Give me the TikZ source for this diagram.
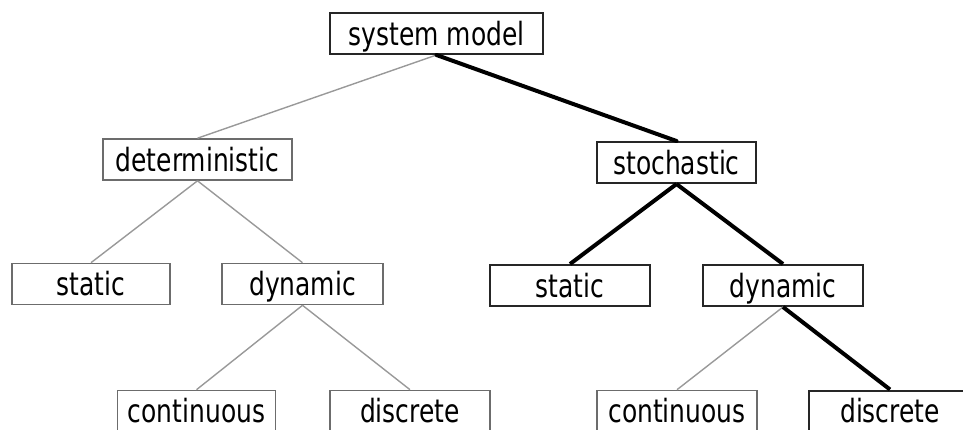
\documentclass[tikz,border=0pt]{standalone}
\usepackage{fontspec}
\setmainfont[FakeStretch=0.78]{DejaVu Sans}
\begin{document}
\begin{tikzpicture}[x=1pt,y=-1pt,
  box/.style={draw=#1, line width=1.6pt, rectangle, inner sep=0pt, minimum height=41pt,
    font=\fontsize{32}{36}\selectfont, text height=25pt, text depth=2pt, fill=white},
  box/.default={gray!85!black},
  dbox/.style={box={black!85}, line width=2pt},
  thin/.style={draw=gray!80, line width=1.4pt},
  thick/.style={draw=black, line width=4pt}]
\useasboundingbox (0,0) rectangle (963,429);
\begin{scope}
\clip (0,0) rectangle (963,429);
\node[dbox, minimum width=213pt] (sys) at (436.5,33.5) {system model};
\node[box, minimum width=189pt] (det) at (197.5,159.5) {deterministic};
\node[dbox, minimum width=159pt] (sto) at (676.5,162.5) {stochastic};
\node[box, minimum width=158pt] (stL) at (91,284) {static};
\node[box, minimum width=161pt] (dyL) at (302.5,284) {dynamic};
\node[dbox, minimum width=160pt] (stR) at (570,285.5) {static};
\node[dbox, minimum width=160pt] (dyR) at (783,285.5) {dynamic};
\node[box, minimum width=158pt] (coL) at (196.5,411) {continuous};
\node[box, minimum width=160pt] (diL) at (410,411) {discrete};
\node[box, minimum width=160pt] (coR) at (677,411) {continuous};
\node[dbox, minimum width=162pt] (diR) at (890,411) {discrete};
\draw[thin] (sys.south) -- (det.north);
\draw[thick, line cap=round] (sys.south) -- (sto.north);
\draw[thin] (det.south) -- (stL.north);
\draw[thin] (det.south) -- (dyL.north);
\draw[thick] (sto.south) -- (stR.north);
\draw[thick] (sto.south) -- (dyR.north);
\draw[thin] (dyL.south) -- (coL.north);
\draw[thin] (dyL.south) -- (diL.north);
\draw[thin] (dyR.south) -- (coR.north);
\draw[thick] (dyR.south) -- (diR.north);
\end{scope}
\end{tikzpicture}
\end{document}
